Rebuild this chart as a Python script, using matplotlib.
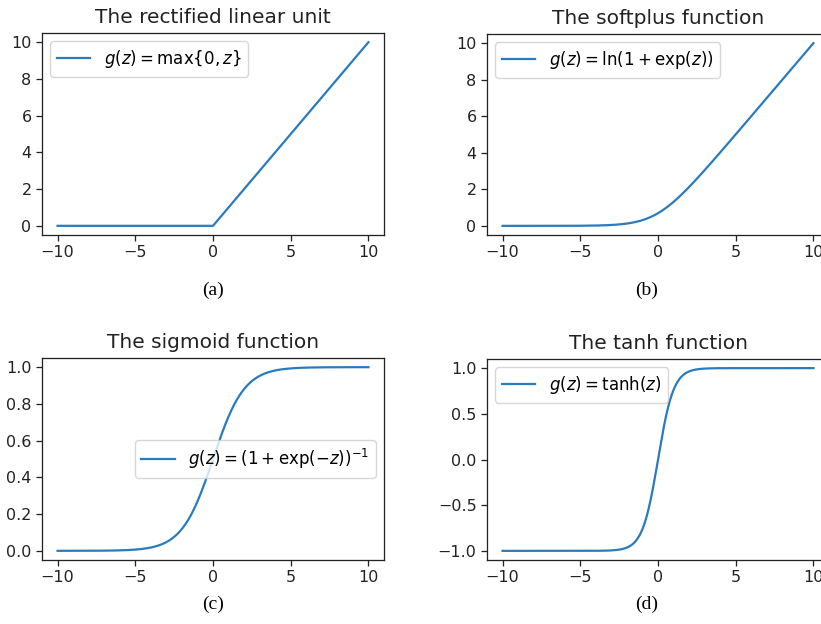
import numpy as np
import matplotlib
matplotlib.use("Agg")
import matplotlib.pyplot as plt

# the curves are the activation functions themselves, sampled on [-10, 10]
z = np.linspace(-10, 10, 1000)

relu = np.maximum(0, z)
softplus = np.log1p(np.exp(z))
sigmoid = 1 / (1 + np.exp(-z))
tanh = np.tanh(z)

titles = ["The rectified linear unit", "The softplus function",
          "The sigmoid function", "The tanh function"]
labels = [r"$g(z) = \max\{0, z\}$", r"$g(z) = \ln(1 + \exp(z))$",
          r"$g(z) = (1 + \exp(-z))^{-1}$", r"$g(z) = \tanh(z)$"]
captions = ["(a)", "(b)", "(c)", "(d)"]
legend_locs = ["upper left", "upper left", "center right", "upper left"]
curves = [relu, softplus, sigmoid, tanh]

# reference looks like a default matplotlib figure scaled up by ~1.15
s = 1.15
plt.rcParams.update({
    "xtick.labelsize": 10 * s, "ytick.labelsize": 10 * s,
    "xtick.major.size": 3.5 * s, "ytick.major.size": 3.5 * s,
    "xtick.major.width": 0.8 * s, "ytick.major.width": 0.8 * s,
    "xtick.color": "#222222", "ytick.color": "#222222",
    "axes.edgecolor": "#222222",
    "axes.linewidth": 0.8 * s,
    "legend.fontsize": 12,
})

W, H = 821, 624
fig = plt.figure(figsize=(W / 100, H / 100), dpi=100)

# axes boxes in pixels: left, top, right, bottom
boxes = [(42, 33, 384, 235), (487, 34, 829, 235),
         (42, 358, 384, 560), (487, 359, 829, 560)]
caption_pos = [(213, 290), (647, 290), (213, 604), (647, 604)]

for i in range(4):
    l, t, r, b = boxes[i]
    ax = fig.add_axes([l / W, 1 - b / H, (r - l) / W, (b - t) / H])
    ax.plot(z, curves[i], color="#2a7bbd", lw=1.6, label=labels[i])
    ax.set_title(titles[i], fontsize=14.5, pad=6 * s, color="#222222")
    ax.legend(loc=legend_locs[i])
    ax.set_xticks([-10, -5, 0, 5, 10])
    if i == 2:
        ax.set_yticks([0.0, 0.2, 0.4, 0.6, 0.8, 1.0])
    if i == 3:
        ax.set_yticks([-1.0, -0.5, 0.0, 0.5, 1.0])
    cx, cy = caption_pos[i]
    fig.text(cx / W, 1 - cy / H, captions[i], ha="center", va="center",
             family="Liberation Serif", fontsize=14)

fig.savefig("out.png", dpi=100)
